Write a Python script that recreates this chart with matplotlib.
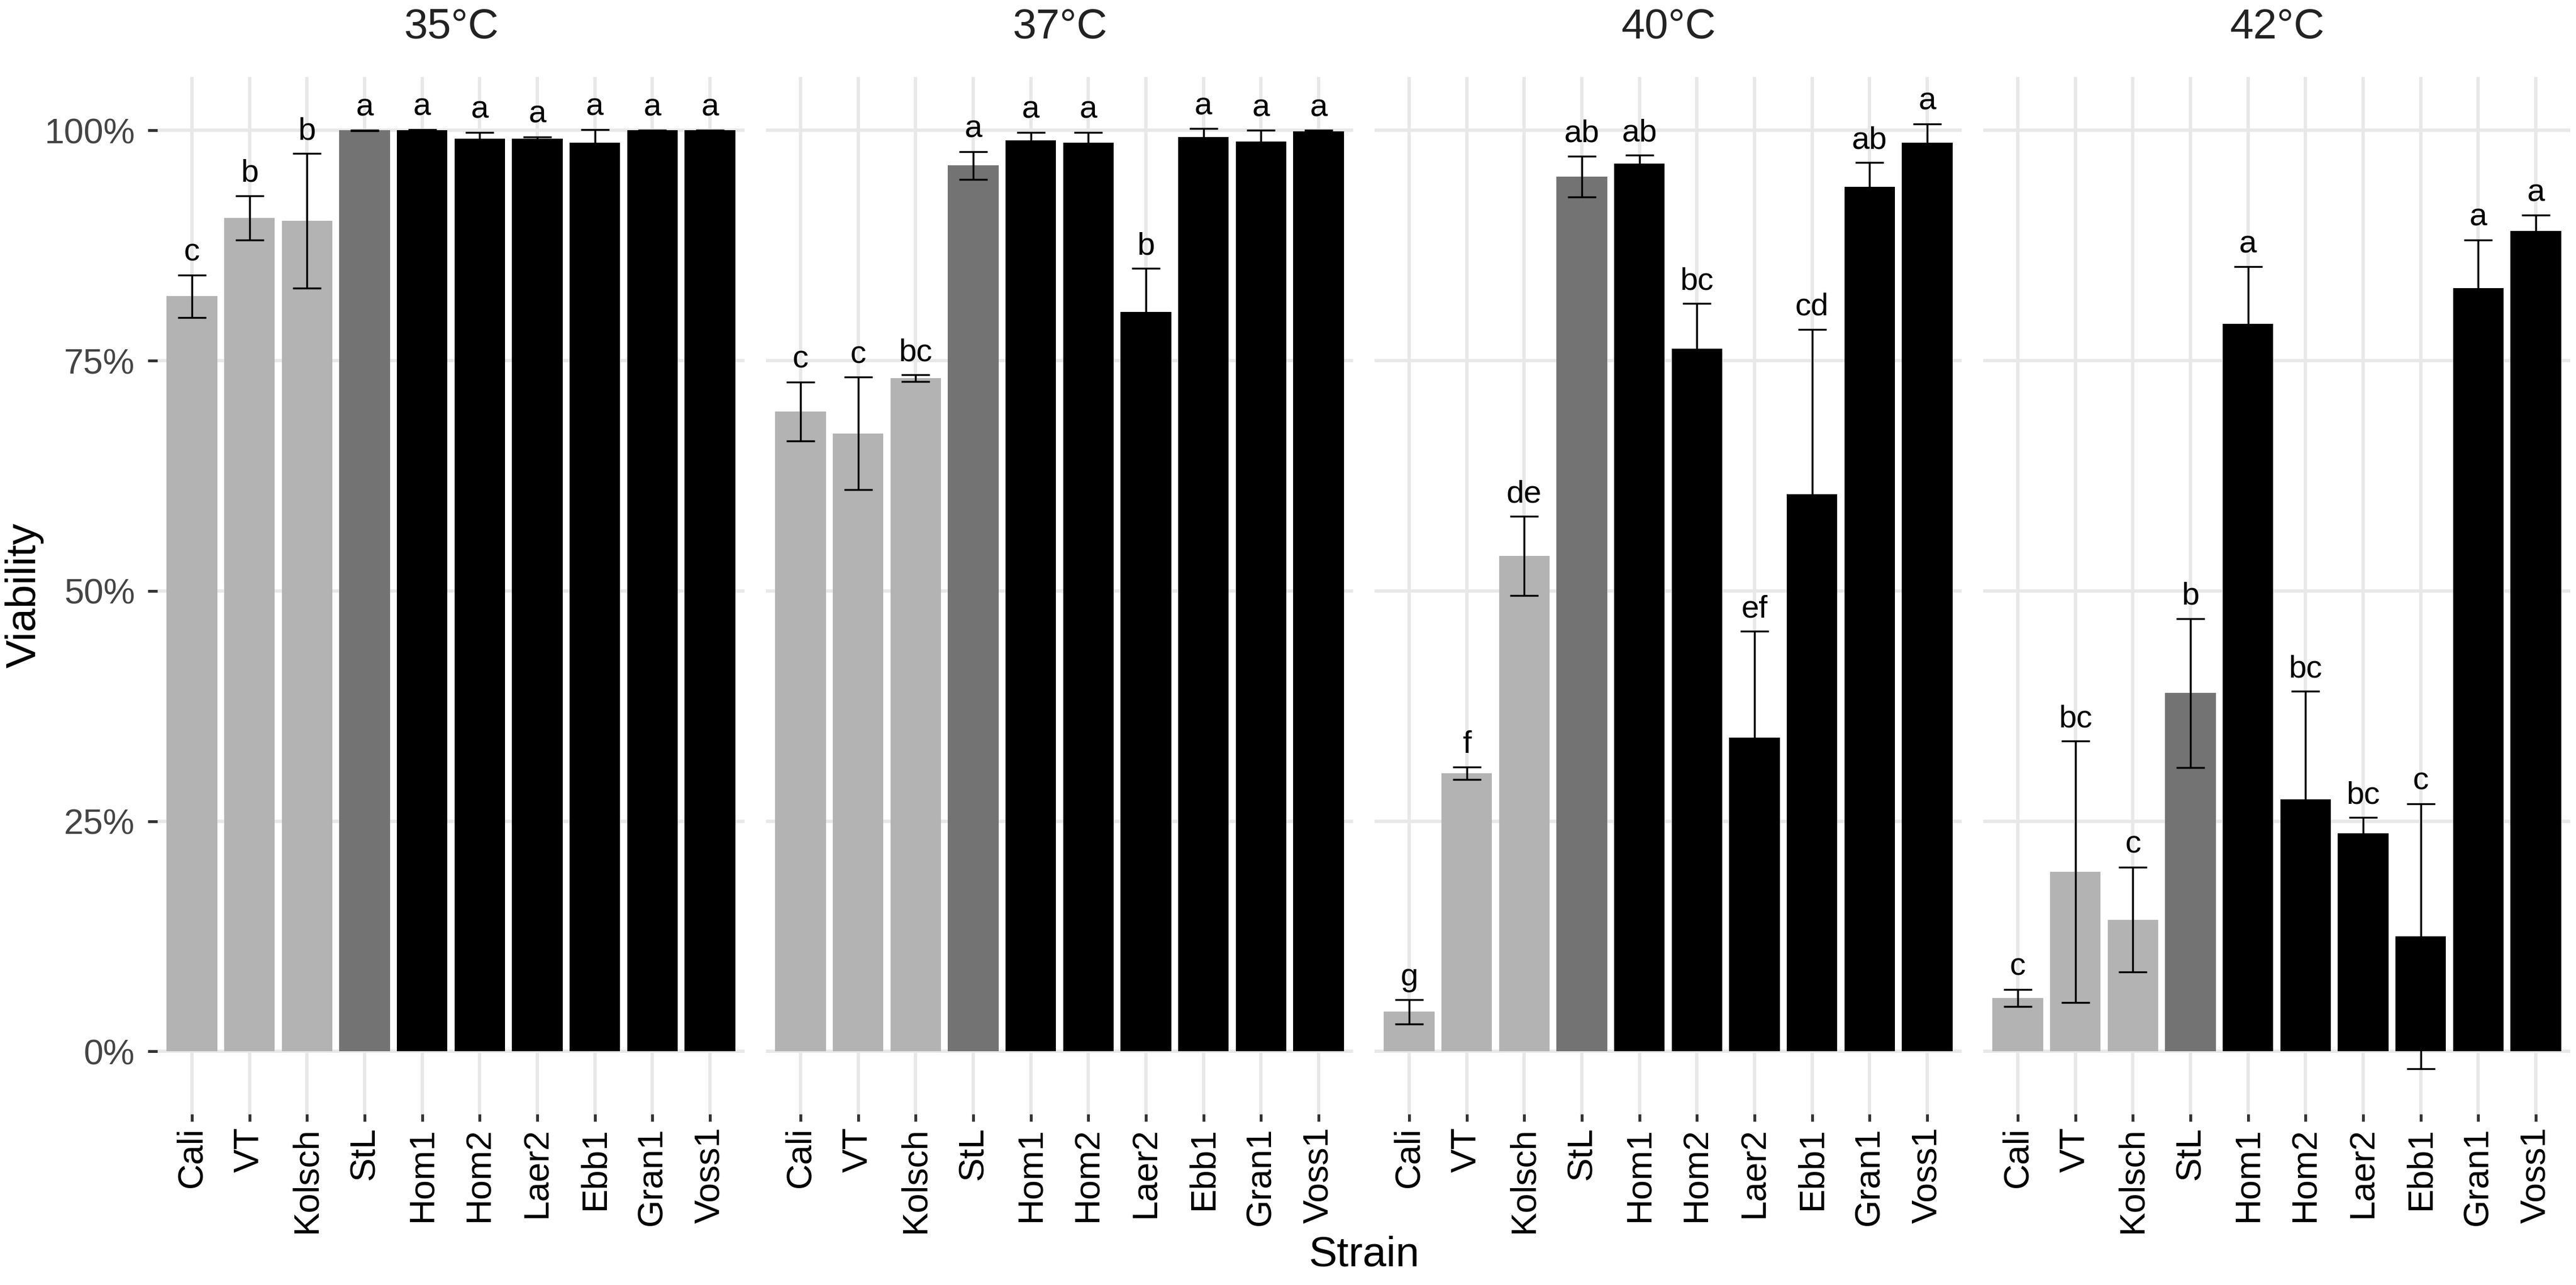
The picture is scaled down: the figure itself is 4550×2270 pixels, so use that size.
import matplotlib
matplotlib.use("Agg")
import matplotlib.pyplot as plt
from matplotlib.ticker import FuncFormatter, FixedLocator

plt.rcParams['font.family'] = ['Liberation Sans', 'DejaVu Sans']

# ---------------- data ----------------
strains = ["Cali", "VT", "Kolsch", "StL", "Hom1", "Hom2", "Laer2", "Ebb1", "Gran1", "Voss1"]
strain_group = ["ale", "ale", "ale", "hybrid", "kveik", "kveik", "kveik", "kveik", "kveik", "kveik"]
temperatures = ["35°C", "37°C", "40°C", "42°C"]

viab_35 = [82.0, 90.5, 90.2, 100.0, 100.0, 99.1, 99.1, 98.7, 100.0, 100.0]
sd_35 = [2.3, 2.4, 7.3, 0.05, 0.1, 0.7, 0.2, 1.4, 0.05, 0.05]
letters_35 = ["c", "b", "b", "a", "a", "a", "a", "a", "a", "a"]

viab_37 = [69.5, 67.1, 73.1, 96.2, 98.9, 98.7, 80.3, 99.3, 98.8, 99.9]
sd_37 = [3.2, 6.1, 0.35, 1.5, 0.9, 1.1, 4.7, 0.9, 1.2, 0.1]
letters_37 = ["c", "c", "bc", "a", "a", "a", "b", "a", "a", "a"]

viab_40 = [4.3, 30.2, 53.8, 95.0, 96.4, 76.3, 34.1, 60.5, 93.9, 98.7]
sd_40 = [1.3, 0.65, 4.3, 2.2, 0.9, 4.9, 11.5, 17.9, 2.6, 2.0]
letters_40 = ["g", "f", "de", "ab", "ab", "bc", "ef", "cd", "ab", "a"]

viab_42 = [5.8, 19.5, 14.3, 38.9, 79.0, 27.4, 23.7, 12.5, 82.9, 89.1]
sd_42 = [0.95, 14.2, 5.7, 8.1, 6.2, 11.7, 1.7, 14.4, 5.2, 1.7]
letters_42 = ["c", "bc", "c", "b", "a", "bc", "bc", "c", "a", "a"]

y_ticks = [0, 25, 50, 75, 100]

# ---------------- style ----------------
group_colors = {"ale": "#B3B3B3", "hybrid": "#737373", "kveik": "#000000"}
grid_color = "#E8E8E8"

W, H = 4550, 2270
fig = plt.figure(figsize=(W / 300, H / 300), dpi=300)

panel_left0 = 278
panel_w = 1037
panel_gap = 38
panel_top = 136
panel_bottom = 1968

series = [
    (viab_35, sd_35, letters_35),
    (viab_37, sd_37, letters_37),
    (viab_40, sd_40, letters_40),
    (viab_42, sd_42, letters_42),
]

xpos = list(range(len(strains)))
colors = [group_colors[g] for g in strain_group]

for i, (temp, (vals, sds, lets)) in enumerate(zip(temperatures, series)):
    left = panel_left0 + i * (panel_w + panel_gap)
    ax = fig.add_axes([left / W, 1 - panel_bottom / H, panel_w / W, (panel_bottom - panel_top) / H])
    ax.set_axisbelow(True)
    ax.bar(xpos, vals, width=0.88, color=colors, linewidth=0, zorder=2)
    ax.errorbar(xpos, vals, yerr=sds, fmt="none", ecolor="black", elinewidth=0.8,
                capsize=6.1, capthick=0.8, zorder=3)
    for x, v, s, l in zip(xpos, vals, sds, lets):
        ax.annotate(l, (x, v + s), xytext=(0, 6), textcoords="offset points",
                    ha="center", va="baseline", fontsize=13.5, color="black", zorder=4)
    ax.set_xlim(-0.6, len(strains) - 0.4)
    ax.set_ylim(-6.8, 105.8)
    ax.set_xticks(xpos)
    ax.set_xticklabels(strains, rotation=90, fontsize=15, color="black")
    ax.yaxis.set_major_locator(FixedLocator(y_ticks))
    ax.yaxis.set_major_formatter(FuncFormatter(lambda v, p: f"{v:.0f}%"))
    ax.grid(True, color=grid_color, linewidth=1.4)
    for sp in ax.spines.values():
        sp.set_visible(False)
    ax.tick_params(axis="x", length=3, width=1.2, color="#333333", pad=2.5)
    if i == 0:
        ax.tick_params(axis="y", length=4, width=1.2, color="#333333", pad=5.5,
                       labelsize=15, labelcolor="#444444")
    else:
        ax.tick_params(axis="y", length=0, labelleft=False)
    fig.text((left + panel_w / 2) / W, 1 - 48 / H, temp, ha="center", va="center",
             fontsize=18, color="#222222")

fig.text(43 / W, 1 - (panel_top + panel_bottom) / 2 / H, "Viability", rotation=90,
         ha="center", va="center", fontsize=18, color="black")
fig.text((panel_left0 + (4 * panel_w + 3 * panel_gap) / 2) / W, 1 - 2217 / H, "Strain",
         ha="center", va="center", fontsize=18, color="black")

fig.savefig("out.png", dpi=300, facecolor="white")
